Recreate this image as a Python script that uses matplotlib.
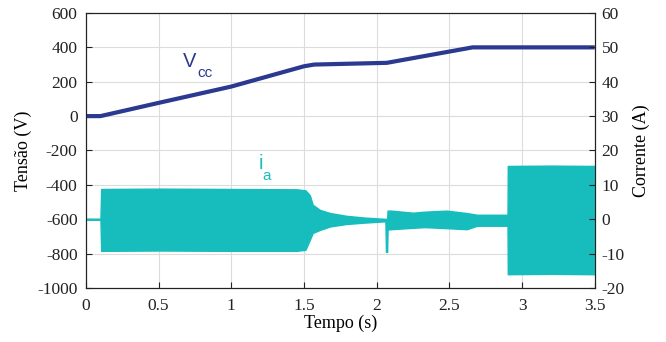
import numpy as np
import matplotlib.pyplot as plt

# DC bus voltage (V), piecewise
t_vcc = [0.0, 0.10, 0.5, 1.0, 1.5, 1.57, 2.07, 2.66, 3.5]
vcc = [0, 0, 77, 172, 290, 300, 310, 400, 400]

# phase current envelope (A): upper / lower edge of the oscillation band
t_ia = [0.0, 0.10, 0.105, 0.5, 1.0, 1.45, 1.51, 1.54, 1.56, 1.61, 1.68, 1.79, 1.91,
        2.06, 2.064, 2.072, 2.075, 2.1, 2.25, 2.33, 2.48, 2.62, 2.69, 2.9, 2.902, 3.2, 3.5]
ia_up = [0.15, 0.15, 8.8, 8.9, 8.8, 8.7, 8.4, 7.0, 4.2, 2.7, 1.8, 1.0, 0.5,
         0.1, 0.1, 0.1, 2.5, 2.5, 1.9, 2.2, 2.5, 1.8, 1.3, 1.3, 15.5, 15.6, 15.5]
ia_lo = [-0.15, -0.15, -9.2, -9.1, -9.2, -9.2, -8.9, -6.0, -4.0, -3.1, -2.1, -1.4, -1.0,
         -0.6, -9.5, -9.5, -3.0, -2.9, -2.5, -2.3, -2.6, -2.9, -1.9, -1.9, -16.0, -15.9, -16.0]

navy = '#2b3990'
cyan = '#17bcbc'

plt.rcParams['font.family'] = ['Liberation Serif', 'DejaVu Serif']
plt.rcParams['axes.unicode_minus'] = False
fig = plt.figure(figsize=(6.66, 3.42), dpi=100)
ax = fig.add_axes([0.129, 0.158, 0.764, 0.804])
ax2 = ax.twinx()

# twin axes sits above, so the band covers the grid of ax
ax2.fill_between(t_ia, ia_lo, ia_up, color=cyan, edgecolor=cyan, linewidth=1.0)
ax.plot(t_vcc, vcc, color=navy, lw=3, solid_capstyle='butt', zorder=5)

ax.set_xlim(0, 3.5)
ax.set_ylim(-1000, 600)
ax2.set_ylim(-20, 60)
ax.set_xticks(np.arange(0, 3.51, 0.5))
ax.set_xticklabels(['0', '0.5', '1', '1.5', '2', '2.5', '3', '3.5'])
ax.set_yticks(np.arange(-1000, 601, 200))
ax2.set_yticks(np.arange(-20, 61, 10))
ax.grid(True, color='#dcdcdc', lw=0.8)
ax.set_axisbelow(True)

for a in (ax, ax2):
    a.tick_params(direction='in', labelsize=12.5, length=4, width=0.8, colors='#222222')
    for s in a.spines.values():
        s.set_color('#222222')
        s.set_linewidth(0.8)
ax.tick_params(axis='y', pad=6)
ax.tick_params(axis='x', pad=7)
ax2.tick_params(axis='y', pad=5)

ax.set_xlabel('Tempo (s)', fontsize=13, labelpad=1)
ax.set_ylabel('Tensão (V)', fontsize=13, labelpad=4)
ax2.set_ylabel('Corrente (A)', fontsize=13, labelpad=6)

ax.text(0.667, 285, 'V', color=navy, fontsize=14.5, family='Liberation Sans')
ax.text(0.765, 227, 'cc', color=navy, fontsize=11, family='Liberation Sans')
ax.text(1.185, -308, 'i', color=cyan, fontsize=14.5, family='Liberation Sans')
ax.text(1.215, -372, 'a', color=cyan, fontsize=11, family='Liberation Sans')

fig.savefig('out.png', dpi=100)
